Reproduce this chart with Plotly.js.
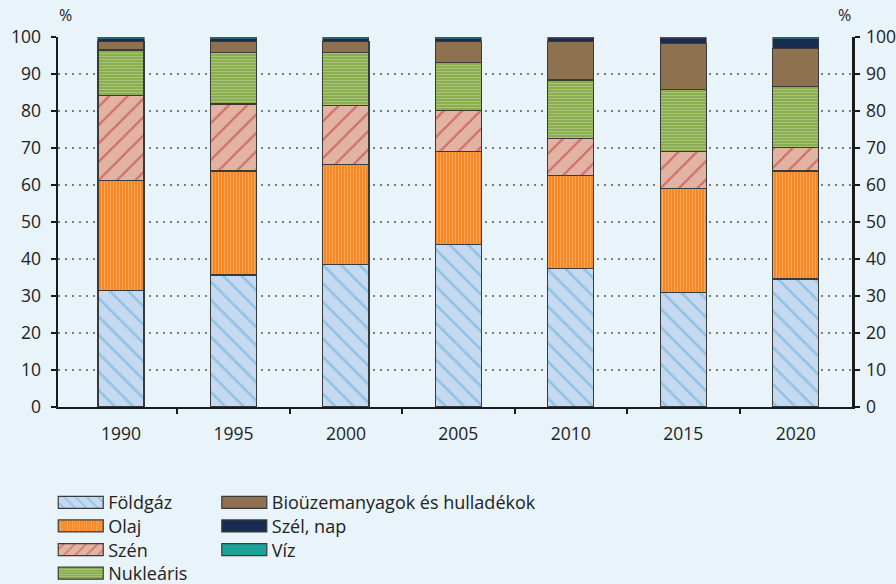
<!DOCTYPE html>
<html>
<head>
<meta charset="utf-8">
<script src="https://cdn.plot.ly/plotly-3.0.1.min.js"></script>
<style>
  html, body { margin: 0; padding: 0; background: #E9F3FA; }
  #chart { width: 896px; height: 584px; }
</style>
</head>
<body>
<div id="chart"></div>
<script>
// Years on the category axis
const years = ['1990', '1995', '2000', '2005', '2010', '2015', '2020'];

// Share of each energy source in primary energy use (%)
const foldgaz   = [31.5, 35.7, 38.6, 44.0, 37.5, 31.0, 34.6];
const olaj      = [29.8, 28.1, 27.0, 25.1, 25.1, 28.1, 29.2];
const szen      = [22.9, 18.1, 15.8, 11.1, 10.0,  9.9,  6.4];
const nuklearis = [12.3, 14.0, 14.5, 12.9, 15.8, 16.9, 16.4];
const bio       = [ 2.3,  2.9,  2.9,  5.7, 10.4, 12.4, 10.4];
const szelNap   = [ 0.7,  0.7,  0.7,  0.7,  0.8,  1.4,  2.5];
const viz       = [ 0.5,  0.5,  0.5,  0.5,  0.4,  0.3,  0.5];

const seriesNames = ['Földgáz', 'Olaj', 'Szén', 'Nukleáris',
                     'Bioüzemanyagok és hulladékok', 'Szél, nap', 'Víz'];

const idx = years.map((_, i) => i);
const FONT = 'Open Sans, Liberation Sans, sans-serif';
const TXT = '#222222';
const outline = { color: '#3a3a3a', width: 1.2 };
const thinOutline = { color: '#3a3a3a', width: 0.6 };

function bar(name, values, marker, legendId, line) {
  return {
    type: 'bar',
    name: name,
    x: idx,
    y: values,
    width: 0.41,
    marker: Object.assign({ line: line || outline }, marker),
    legend: legendId,
    hoverinfo: 'skip'
  };
}

const traces = [
  bar(seriesNames[0], foldgaz, {
    color: '#C5DAF0',
    pattern: { shape: '\\', fgcolor: '#62A7DA', bgcolor: '#C5DAF0', size: 13, solidity: 0.2, fillmode: 'overlay' }
  }, 'legend'),
  bar(seriesNames[1], olaj, {
    color: '#F5841F',
    pattern: { shape: '|', fgcolor: '#FDCB98', bgcolor: '#F5841F', size: 3, solidity: 0.4, fillmode: 'overlay' }
  }, 'legend'),
  bar(seriesNames[2], szen, {
    color: '#E2B2A2',
    pattern: { shape: '/', fgcolor: '#B9282C', bgcolor: '#E2B2A2', size: 13, solidity: 0.17, fillmode: 'overlay' }
  }, 'legend'),
  bar(seriesNames[3], nuklearis, {
    color: '#82A843',
    pattern: { shape: '-', fgcolor: '#D3E4B3', bgcolor: '#80A640', size: 3, solidity: 0.5, fillmode: 'overlay' }
  }, 'legend'),
  bar(seriesNames[4], bio,     { color: '#8E7250' }, 'legend2'),
  bar(seriesNames[5], szelNap, { color: '#1A2B52' }, 'legend2', thinOutline),
  bar(seriesNames[6], viz,     { color: '#1BA39A' }, 'legend2', thinOutline),
  // keeps the right-hand mirror axis attached to the plot
  { type: 'scatter', x: [0], y: [0], yaxis: 'y2', mode: 'markers',
    marker: { opacity: 0 }, showlegend: false, hoverinfo: 'skip' }
];

const yAxisCommon = {
  range: [0, 100],
  tickvals: [0, 10, 20, 30, 40, 50, 60, 70, 80, 90, 100],
  showline: true,
  linecolor: '#1a1a1a',
  linewidth: 2.5,
  ticks: 'outside',
  ticklen: 5,
  tickwidth: 2,
  tickcolor: '#1a1a1a',
  tickfont: { family: FONT, size: 17.5, color: TXT },
  zeroline: false,
  fixedrange: true
};

const legendCommon = {
  yref: 'container', y: 0.171, xanchor: 'left', yanchor: 'top',
  orientation: 'v', traceorder: 'normal',
  bgcolor: 'rgba(0,0,0,0)', borderwidth: 0,
  itemwidth: 45, tracegroupgap: 0,
  font: { family: FONT, size: 18, color: TXT }
};

const layout = {
  width: 896,
  height: 584,
  margin: { l: 58, r: 44, t: 37, b: 177, autoexpand: false },
  paper_bgcolor: '#E9F3FA',
  plot_bgcolor: '#E9F3FA',
  barmode: 'stack',
  font: { family: FONT, size: 17.5, color: TXT },
  xaxis: {
    range: [-0.56, 6.5],
    tickmode: 'array',
    tickvals: idx,
    ticktext: years,
    ticks: '',
    showline: true,
    linecolor: '#1a1a1a',
    linewidth: 2,
    showgrid: false,
    zeroline: false,
    tickfont: { family: FONT, size: 17.5, color: TXT },
    ticklabelstandoff: 10,
    minor: {
      tickmode: 'array',
      tickvals: idx.slice(0, -1).map(i => i + 0.5),
      ticks: 'outside',
      ticklen: 5,
      tickwidth: 2,
      tickcolor: '#1a1a1a',
      showgrid: false
    },
    fixedrange: true
  },
  yaxis: Object.assign({}, yAxisCommon, {
    side: 'left',
    ticklabelstandoff: 6,
    showgrid: true,
    gridcolor: '#7d7d7d',
    gridwidth: 2,
    griddash: '2px,5px'
  }),
  yaxis2: Object.assign({}, yAxisCommon, {
    side: 'right',
    overlaying: 'y',
    anchor: 'x',
    ticklabelstandoff: 3,
    showgrid: false
  }),
  showlegend: true,
  legend: Object.assign({}, legendCommon, { x: -0.006 }),
  legend2: Object.assign({}, legendCommon, { x: 0.2 }),
  annotations: [
    { text: '%', xref: 'paper', yref: 'paper', x: 0.01, y: 1, yshift: 22,
      xanchor: 'center', yanchor: 'middle', showarrow: false,
      font: { family: FONT, size: 16, color: TXT } },
    { text: '%', xref: 'paper', yref: 'paper', x: 0.99, y: 1, yshift: 22,
      xanchor: 'center', yanchor: 'middle', showarrow: false,
      font: { family: FONT, size: 16, color: TXT } }
  ]
};

Plotly.newPlot('chart', traces, layout, { staticPlot: true, displayModeBar: false })
  .then(function (gd) {
    // wide rectangular legend swatches
    gd.querySelectorAll('.legendpoints path').forEach(function (p) {
      p.setAttribute('d', 'M22.5,6H-22.5V-6H22.5Z');
      p.style.strokeWidth = '1.2px';
    });
    // tighter row spacing in both legends
    gd.querySelectorAll('.legend, [class^="legend2"]').forEach(function (lg) {
      const rows = lg.querySelectorAll('g.traces');
      let y0 = null;
      rows.forEach(function (row, i) {
        const m = /translate\(\s*([-\d.]+)[ ,]+([-\d.]+)\s*\)/.exec(row.getAttribute('transform') || '');
        if (!m) return;
        if (y0 === null) y0 = parseFloat(m[2]);
        row.setAttribute('transform', 'translate(' + m[1] + ',' + (y0 + i * 23.6) + ')');
      });
    });
  });
</script>
</body>
</html>
